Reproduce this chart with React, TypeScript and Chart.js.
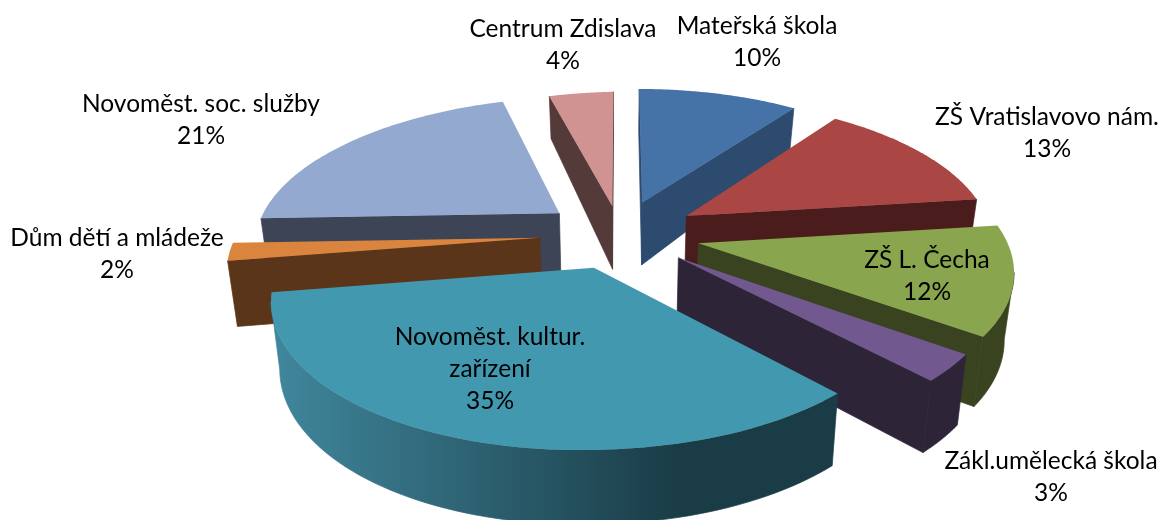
import React, { useEffect, useRef } from "react";
import { Chart, registerables } from "chart.js";

Chart.register(...registerables);

const categories = [
  "Mateřská škola",
  "ZŠ Vratislavovo nám.",
  "ZŠ L. Čecha",
  "Zákl.umělecká škola",
  "Novoměst. kultur. zařízení",
  "Dům dětí a mládeže",
  "Novoměst. soc. služby",
  "Centrum Zdislava",
];
const shares = [10, 13, 12, 3, 35, 2, 21, 4];
const topColors = ["#4572A7", "#AA4643", "#89A54E", "#71588F", "#4198AF", "#DB843D", "#93A9CF", "#D19392"];
const wallColors = ["#2D4A6F", "#4A1C1C", "#394320", "#2E2438", "#1A3C46", "#5A3519", "#3C4455", "#553A3A"];
const wallLightColors = [null, null, null, null, "#40879D", null, null, null];
const explodeOffsets = [52, 55, 56, 53, 52, 56, 55, 44];
const drawOrder = [7, 6, 0, 1, 5, 2, 3, 4];
const labelLines = [
  ["Mateřská škola", "10%"],
  ["ZŠ Vratislavovo nám.", "13%"],
  ["ZŠ L. Čecha", "12%"],
  ["Zákl.umělecká škola", "3%"],
  ["Novoměst. kultur.", "zařízení", "35%"],
  ["Dům dětí a mládeže", "2%"],
  ["Novoměst. soc. služby", "21%"],
  ["Centrum Zdislava", "4%"],
];
const labelX = [757, 1047, 927, 1051, 490, 117, 201, 563];
const labelY = [26, 117, 260, 461, 337, 238, 104, 29];

const view = { cx: 620, cy: 234, a: 306, b: 141, k: 0.16, lean: 0.025, unit: 214, leftDrop: 5 };

type P = { x: number; y: number };

function project(X: number, Y: number, bottom: boolean): P {
  const w = 1 - view.k * Y;
  const sx = (view.a * X) / w;
  const sy = (view.b * Y) / w + Math.max(0, -X) * view.leftDrop;
  if (!bottom) return { x: view.cx + sx, y: view.cy + sy };
  const h = Y <= -0.2 ? 63 + (Y + 0.2) * 21 : 63 + (Y + 0.2) * 8;
  return { x: view.cx + sx * (1 - view.lean), y: view.cy + sy + h };
}

function fillPoly(ctx: CanvasRenderingContext2D, pts: P[], fill: string | CanvasGradient, seal = false) {
  ctx.beginPath();
  pts.forEach((p, i) => (i ? ctx.lineTo(p.x, p.y) : ctx.moveTo(p.x, p.y)));
  ctx.closePath();
  ctx.fillStyle = fill;
  ctx.fill();
  if (seal) {
    ctx.strokeStyle = fill;
    ctx.lineWidth = 0.7;
    ctx.stroke();
  }
}

function faces(p: P, q: P, m: P) {
  const ex = q.x - p.x;
  const ey = q.y - p.y;
  const inner = ex * (m.y - p.y) - ey * (m.x - p.x);
  return inner * ex < 0;
}

const pie3d = {
  id: "pie3d",
  beforeDatasetDraw(chart: any) {
    const ctx: CanvasRenderingContext2D = chart.ctx;
    const meta = chart.getDatasetMeta(0);
    drawOrder.forEach((i) => {
      const el = meta.data[i];
      const e = el.options.offset / view.unit;
      const a0 = el.startAngle;
      const a1 = el.endAngle;
      const mid = (a0 + a1) / 2;
      const ox = Math.cos(mid) * e;
      const oy = Math.sin(mid) * e;
      const n = 72;
      const rim: [number, number][] = [];
      for (let s = 0; s <= n; s++) {
        const t = a0 + ((a1 - a0) * s) / n;
        rim.push([ox + Math.cos(t), oy + Math.sin(t)]);
      }
      const top = rim.map(([x, y]) => project(x, y, false));
      const bot = rim.map(([x, y]) => project(x, y, true));
      const apexT = project(ox, oy, false);
      const apexB = project(ox, oy, true);
      const centre = project(ox + Math.cos(mid) * 0.5, oy + Math.sin(mid) * 0.5, false);
      const wall = wallColors[i];

      if (faces(apexT, top[0], centre)) fillPoly(ctx, [apexT, top[0], bot[0], apexB], wall, true);
      if (faces(apexT, top[n], centre)) fillPoly(ctx, [apexT, top[n], bot[n], apexB], wall, true);

      let paint: string | CanvasGradient = wall;
      const light = wallLightColors[i];
      if (light) {
        const x0 = Math.min(...top.map((p) => p.x));
        const x1 = Math.max(...top.map((p) => p.x));
        const g = ctx.createLinearGradient(x0, 0, x0 + (x1 - x0) * 0.72, 0);
        g.addColorStop(0, light);
        g.addColorStop(1, wall);
        paint = g;
      }
      let run: number[] = [];
      const flush = () => {
        if (run.length > 1) {
          fillPoly(ctx, [...run.map((k) => top[k]), ...[...run].reverse().map((k) => bot[k])], paint, true);
        }
        run = [];
      };
      for (let s = 0; s < n; s++) {
        if (faces(top[s], top[s + 1], apexT)) {
          if (!run.length) run.push(s);
          run.push(s + 1);
        } else {
          flush();
        }
      }
      flush();
      fillPoly(ctx, [apexT, ...top], topColors[i]);
    });

    ctx.save();
    ctx.font = "24.5px Lato";
    ctx.fillStyle = "#000000";
    ctx.textAlign = "center";
    ctx.textBaseline = "middle";
    labelLines.forEach((lines, i) => {
      lines.forEach((line, j) => ctx.fillText(line, labelX[i], labelY[i] + j * 32));
    });
    ctx.restore();
    return false;
  },
};

export default function App() {
  const ref = useRef<HTMLCanvasElement>(null);
  useEffect(() => {
    document.body.style.margin = "0";
    const chart = new Chart(ref.current!, {
      type: "pie",
      data: {
        labels: categories,
        datasets: [{ data: shares, backgroundColor: topColors, offset: explodeOffsets, borderWidth: 0 }],
      },
      options: {
        animation: false,
        responsive: false,
        plugins: { legend: { display: false }, tooltip: { enabled: false } },
      },
      plugins: [pie3d],
    } as any);
    return () => chart.destroy();
  }, []);
  return <canvas ref={ref} width={1163} height={520} style={{ display: "block" }} />;
}
